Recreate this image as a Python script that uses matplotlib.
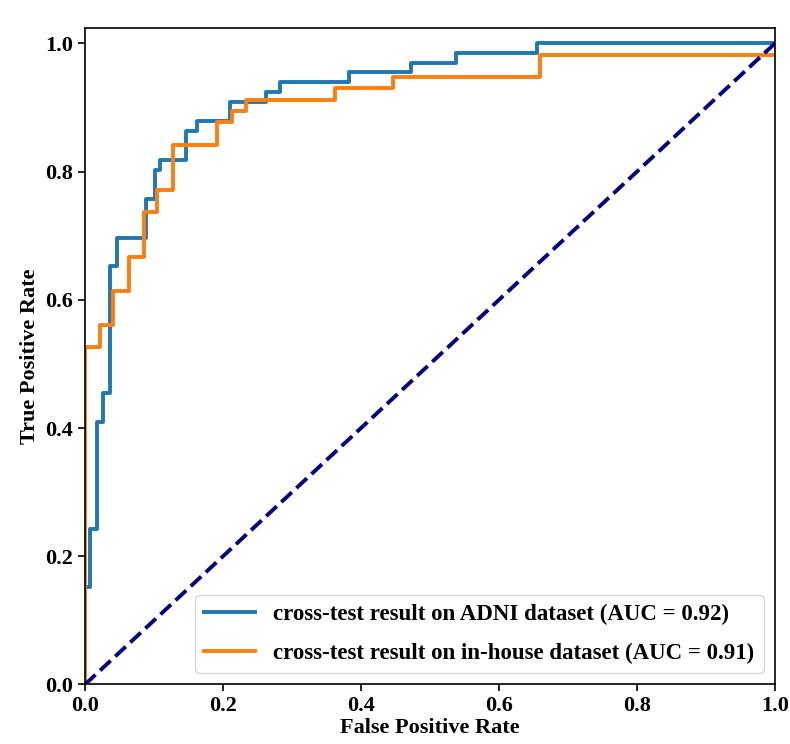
import numpy as np
import matplotlib
matplotlib.use("Agg")
import matplotlib.pyplot as plt

# ROC points (corner of each vertical jump)
adni_fpr = [0, 0, 0.007, 0.017, 0.0265, 0.036, 0.046, 0.089, 0.101, 0.109,
            0.146, 0.162, 0.210, 0.263, 0.282, 0.382, 0.472, 0.538, 0.655, 1.0]
adni_tpr = [0, 0.152, 0.242, 0.409, 0.455, 0.652, 0.697, 0.758, 0.803, 0.818,
            0.864, 0.879, 0.909, 0.924, 0.939, 0.955, 0.970, 0.985, 1.0, 1.0]

house_fpr = [0, 0, 0.022, 0.041, 0.064, 0.086, 0.105, 0.128, 0.191, 0.213,
             0.233, 0.362, 0.447, 0.659, 1.0]
house_tpr = [0, 0.526, 0.561, 0.614, 0.667, 0.737, 0.772, 0.842, 0.877, 0.895,
             0.912, 0.930, 0.947, 0.982, 0.982]

labels = ["cross-test result on ADNI dataset (AUC = 0.92)",
          "cross-test result on in-house dataset (AUC = 0.91)"]

plt.rcParams['font.family'] = ['Liberation Serif', 'DejaVu Serif']
plt.rcParams['font.weight'] = 'bold'
plt.rcParams['axes.labelweight'] = 'bold'

fig = plt.figure(figsize=(7.9, 7.44), dpi=100)
# axes box: x 85..775 px, y 28..684.5 px
ax = fig.add_axes([0.1076, 0.080, 0.8734, 0.8824])

ax.plot(adni_fpr, adni_tpr, drawstyle='steps-post', color='#1f77b4', lw=2.8, label=labels[0])
ax.plot(house_fpr, house_tpr, drawstyle='steps-post', color='#ff7f0e', lw=2.8, label=labels[1])
ax.plot([0, 1], [0, 1], color='navy', lw=2.8, linestyle='--')

ax.set_xlim(0.0, 1.0)
ax.set_ylim(0.0, 1.024)
ax.set_xticks(np.arange(0, 1.01, 0.2))
ax.set_yticks(np.arange(0, 1.01, 0.2))
ax.tick_params(labelsize=16, length=5, width=1.2)
for lab in ax.get_xticklabels() + ax.get_yticklabels():
  lab.set_fontweight('bold')
for sp in ax.spines.values():
  sp.set_linewidth(1.2)

ax.set_xlabel('False Positive Rate', fontsize=16, labelpad=1)
ax.set_ylabel('True Positive Rate', fontsize=16)
ax.legend(loc='lower right', fontsize=16.5, handlelength=2.2, labelspacing=0.75)

fig.savefig('out.png', dpi=100)
